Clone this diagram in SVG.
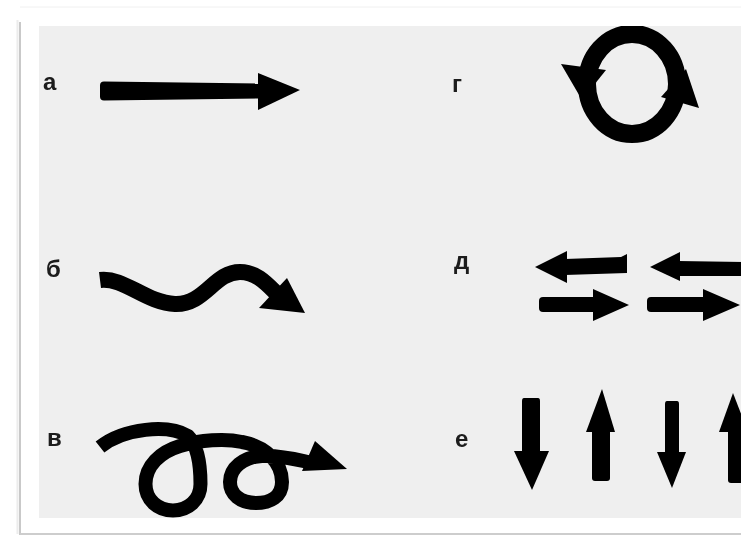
<svg xmlns="http://www.w3.org/2000/svg" width="741" height="536" viewBox="0 0 741 536">
<defs>
<style>
.lbl{font-family:"Liberation Sans",Arial,sans-serif;font-weight:bold;font-size:24px;fill:#1a1a1a}
.ink{fill:#050505}
.stk{fill:none;stroke:#050505;stroke-linecap:butt;stroke-linejoin:round}
</style>
<clipPath id="panel"><rect x="39" y="26" width="702" height="492"/></clipPath>
<filter id="soft" x="-5%" y="-5%" width="110%" height="110%"><feGaussianBlur stdDeviation="0.7"/></filter>
</defs>
<rect x="0" y="0" width="741" height="536" fill="#ffffff"/>
<g id="frame">
<rect x="20" y="7" width="730" height="527" fill="#ffffff"/>
<line x1="17.5" y1="20" x2="17.5" y2="534" stroke="#ececec" stroke-width="2"/>
<line x1="20" y1="22" x2="20" y2="535" stroke="#c9c9c9" stroke-width="2"/>
<line x1="20" y1="534" x2="741" y2="534" stroke="#cdcdcd" stroke-width="2"/>
<line x1="20" y1="7" x2="741" y2="7" stroke="#f0f0f0" stroke-width="1"/>
<rect x="39" y="26" width="702" height="492" fill="#efefef"/>
</g>
<g clip-path="url(#panel)" filter="url(#soft)">
<g id="label-a"><text class="lbl" x="43" y="90">а</text></g>
<g id="label-b"><text class="lbl" x="46" y="277">б</text></g>
<g id="label-v"><text class="lbl" x="47" y="446">в</text></g>
<g id="label-g"><text class="lbl" x="452" y="92">г</text></g>
<g id="label-d"><text class="lbl" x="454" y="269">д</text></g>
<g id="label-e"><text class="lbl" x="455" y="447">е</text></g>

<g id="arrow-a">
<path class="ink" d="M104,81.5 L259,83.5 L259,98.5 L104,100.5 Q100,100.5 100,96.5 L100,85.5 Q100,81.5 104,81.5 Z"/>
<polygon class="ink" points="258,73 300,90 258,110"/>
</g>

<g id="arrow-b">
<path class="stk" stroke-width="16" d="M100,280 C 124,277 146,303 175,304 C 205,305 214,272 240,272 C 256,272 266,283 277,294"/>
<polygon class="ink" points="287,278 305,313 259,308"/>
</g>

<g id="arrow-v">
<path class="stk" stroke-width="14" d="M100,447 C 124,428 168,424 188,436 C 198,446 200.5,465 200.5,484 C 200.5,500 188,510.5 173,510.5 C 158,510.5 145.5,500 145.5,484 C 145.5,466 160,452 180,446 C 200,440 225,438 242,442 C 265,446 282,462 282,482 C 282,497 270,503 256,503 C 240,503 230,494 230,482 C 230,468 243,457 262,456 C 280,455 295,459 308,462"/>
<polygon class="ink" points="315,441 347,469 302,471"/>
</g>

<g id="arrow-g">
<ellipse cx="632" cy="84" rx="45" ry="50" fill="none" stroke="#050505" stroke-width="18"/>
<polygon class="ink" points="561,64 606,70 582,100"/>
<polygon class="ink" points="661,97 699,108 686,69"/>
</g>

<g id="arrow-d">
<path class="ink" d="M565,259 L621,257 L627,254 L627,273 L565,275 Z"/>
<polygon class="ink" points="535,267 567,251 567,283"/>
<path class="ink" d="M678,261 L745,262 L745,276 L678,276 Z"/>
<polygon class="ink" points="650,267 680,252 680,281"/>
<path class="ink" d="M543,297 L595,297 L595,312 L543,312 Q539,312 539,308 L539,301 Q539,297 543,297 Z"/>
<polygon class="ink" points="593,289 629,305 593,321"/>
<path class="ink" d="M651,297 L705,297 L705,312 L651,312 Q647,312 647,308 L647,301 Q647,297 651,297 Z"/>
<polygon class="ink" points="703,289 740,305 703,321"/>
</g>

<g id="arrow-e">
<path class="ink" d="M524,398 L538,398 Q540,398 540,401 L540,453 L522,453 L522,401 Q522,398 524,398 Z"/>
<polygon class="ink" points="514,451 549,451 532,490"/>
<path class="ink" d="M592,429 L610,429 L610,478 Q610,481 607,481 L595,481 Q592,481 592,478 Z"/>
<polygon class="ink" points="586,432 615,432 602,389"/>
<path class="ink" d="M667,401 L677,401 Q679,401 679,404 L679,454 L665,454 L665,404 Q665,401 667,401 Z"/>
<polygon class="ink" points="657,452 686,452 672,488"/>
<path class="ink" d="M728,429 L746,429 L746,483 L731,483 Q728,483 728,480 Z"/>
<polygon class="ink" points="719,432 748,432 733,393"/>
</g>
</g>
</svg>
